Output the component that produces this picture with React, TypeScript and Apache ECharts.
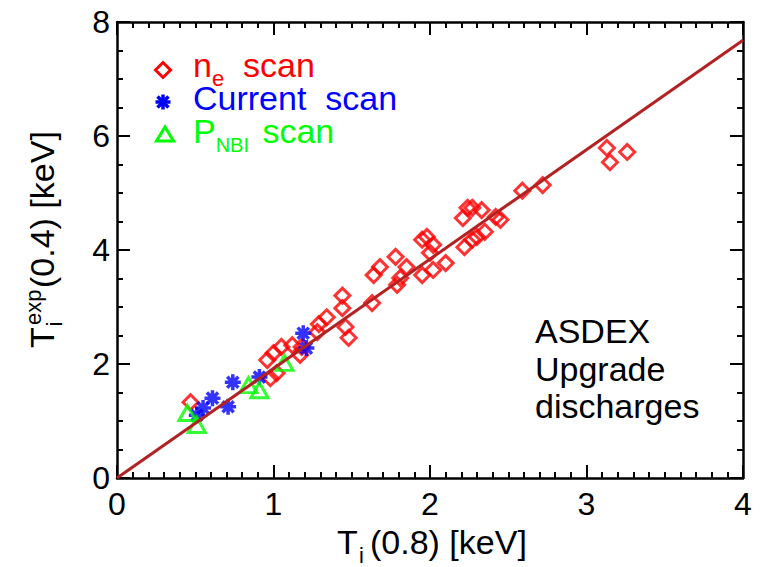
import React, { useEffect, useRef } from "react";
import * as echarts from "echarts";

const NE_SCAN: number[][] = [
  [0.47, 1.33], [0.96, 2.07], [0.98, 1.75], [1.0, 2.19], [1.02, 1.84], [1.05, 2.3],
  [1.12, 2.33], [1.17, 2.16], [1.18, 2.3], [1.28, 2.56], [1.29, 2.7], [1.34, 2.82],
  [1.44, 3.2], [1.44, 2.98], [1.46, 2.65], [1.48, 2.46], [1.63, 3.07], [1.64, 3.56],
  [1.68, 3.7], [1.78, 3.88], [1.79, 3.39], [1.81, 3.51], [1.85, 3.7], [1.95, 3.56],
  [2.02, 3.65], [2.1, 3.77], [1.95, 4.18], [1.98, 4.23], [2.02, 4.09], [2.0, 3.95],
  [2.21, 4.56], [2.24, 4.74], [2.27, 4.74], [2.33, 4.7], [2.42, 4.58], [2.45, 4.53],
  [2.22, 4.05], [2.27, 4.18], [2.3, 4.23], [2.35, 4.32], [2.59, 5.04], [2.72, 5.14],
  [3.13, 5.79], [3.15, 5.54], [3.26, 5.72],
];
const CURRENT_SCAN: number[][] = [
  [0.51, 1.1], [0.55, 1.23], [0.61, 1.4], [0.71, 1.25], [0.74, 1.68], [0.91, 1.77],
  [1.19, 2.54], [1.21, 2.28],
];
const PNBI_SCAN: number[][] = [
  [0.45, 1.14], [0.51, 0.93], [0.84, 1.63], [0.91, 1.54], [1.07, 2.02],
];
const FIT_X = [0, 4];
const FIT_Y = [0, 7.68];

const FONT = "'Liberation Sans', Arial, Helvetica, sans-serif";
const RED = "#ff0000";
const BLUE = "#0000ff";
const GREEN = "#00ff00";
const STAR = "path://M10 0 L10 20 M0 10 L20 10 M3 3 L17 17 M3 17 L17 3";

// text helper: place by left x and baseline y
function txt(text: string, x: number, baseline: number, size: number, color = "#000") {
  return {
    type: "text",
    x,
    y: baseline - 0.3465 * size,
    silent: true,
    style: {
      text,
      fill: color,
      fontSize: size,
      fontFamily: FONT,
      lineHeight: Math.round(size * 0.66),
      align: "left",
      verticalAlign: "middle",
      textAlign: "left",
      textVerticalAlign: "middle",
    },
  };
}

function richTok(color: string, size: number, padTop = 0, padRight = 0) {
  return {
    fill: color,
    color,
    fontSize: size,
    fontFamily: FONT,
    lineHeight: 33,
    padding: [padTop, padRight, 0, 0],
  };
}

export default function App() {
  const ref = useRef<HTMLDivElement>(null);
  useEffect(() => {
    document.body.style.margin = "0";
    const chart = echarts.init(ref.current!, null, { renderer: "svg" });
    const axisCommon = {
      type: "value",
      axisLine: { show: true, onZero: false, lineStyle: { color: "#000", width: 2.5 } },
      axisTick: { show: true, inside: true, length: 13, lineStyle: { color: "#000", width: 2 } },
      minorTick: { show: true, length: 6, lineStyle: { color: "#000", width: 2 } },
      splitLine: { show: false },
    };
    const labelStyle = { color: "#000", fontSize: 32, fontFamily: FONT };
    const option: any = {
      animation: false,
      backgroundColor: "#fff",
      grid: { left: 117, right: 20, top: 22, bottom: 89, containLabel: false },
      xAxis: [
        {
          ...axisCommon, min: 0, max: 4, interval: 1, position: "bottom",
          minorTick: { ...axisCommon.minorTick, splitNumber: 10 },
          axisLabel: { ...labelStyle, margin: 10 },
        },
        {
          ...axisCommon, min: 0, max: 4, interval: 1, position: "top",
          minorTick: { ...axisCommon.minorTick, splitNumber: 10 },
          axisLabel: { show: false },
        },
      ],
      yAxis: [
        {
          ...axisCommon, min: 0, max: 8, interval: 2, position: "left",
          minorTick: { ...axisCommon.minorTick, splitNumber: 4 },
          axisLabel: { ...labelStyle, margin: 7 },
        },
        {
          ...axisCommon, min: 0, max: 8, interval: 2, position: "right",
          minorTick: { ...axisCommon.minorTick, splitNumber: 4 },
          axisLabel: { show: false },
        },
      ],
      series: [
        {
          type: "scatter", name: "ne", data: NE_SCAN, symbol: "diamond", symbolSize: 15,
          itemStyle: { color: "rgba(0,0,0,0)", borderColor: RED, borderWidth: 3 }, z: 2,
        },
        {
          type: "scatter", name: "current", data: CURRENT_SCAN, symbol: STAR, symbolSize: 16,
          itemStyle: { color: "rgba(0,0,0,0)", borderColor: BLUE, borderWidth: 3.5 }, z: 3,
        },
        {
          type: "scatter", name: "pnbi", data: PNBI_SCAN, symbol: "triangle", symbolSize: [17, 15],
          itemStyle: { color: "rgba(0,0,0,0)", borderColor: GREEN, borderWidth: 3 }, z: 4,
        },
        {
          type: "line", data: FIT_X.map((x, i) => [x, FIT_Y[i]]), symbol: "none",
          lineStyle: { color: "#b22222", width: 3 }, z: 5,
        },
      ],
      graphic: [
        // legend markers
        {
          type: "polygon", shape: { points: [[163, 62.5], [170.5, 70], [163, 77.5], [155.5, 70]] },
          style: { fill: "none", stroke: RED, lineWidth: 3 },
        },
        {
          type: "group", x: 163, y: 102,
          children: [
            { type: "line", shape: { x1: 0, y1: -7.5, x2: 0, y2: 7.5 }, style: { stroke: BLUE, lineWidth: 3.5 } },
            { type: "line", shape: { x1: -7.5, y1: 0, x2: 7.5, y2: 0 }, style: { stroke: BLUE, lineWidth: 3.5 } },
            { type: "line", shape: { x1: -5.5, y1: -5.5, x2: 5.5, y2: 5.5 }, style: { stroke: BLUE, lineWidth: 3.5 } },
            { type: "line", shape: { x1: -5.5, y1: 5.5, x2: 5.5, y2: -5.5 }, style: { stroke: BLUE, lineWidth: 3.5 } },
          ],
        },
        {
          type: "polygon", shape: { points: [[165, 127], [173.5, 141], [156.5, 141]] },
          style: { fill: "none", stroke: GREEN, lineWidth: 3 },
        },
        // legend texts (one rich text block)
        {
          type: "text",
          x: 193,
          y: 48.7,
          silent: true,
          style: {
            text: "{r|n}{rs|e}{r|  scan}\n{b|Current  scan}\n{g|P}{gs|NBI}{g| scan}",
            fontFamily: FONT,
            fontSize: 34,
            lineHeight: 33,
            align: "left",
            verticalAlign: "top",
            textAlign: "left",
            textVerticalAlign: "top",
            rich: {
              r: richTok(RED, 34),
              rs: richTok(RED, 22, 26, 0),
              b: richTok(BLUE, 34),
              g: richTok(GREEN, 34),
              gs: richTok(GREEN, 20, 28, 4),
            },
          },
        },
        // annotation
        txt("ASDEX", 535, 343, 34),
        txt("Upgrade", 535, 381, 34),
        txt("discharges", 535, 418, 34),
        // x axis title
        txt("T", 337, 554, 34),
        txt("i", 359, 563, 22),
        txt("(0.8) [keV]", 370, 554, 34),
        // y axis title (rotated)
        {
          type: "group", x: 54, y: 348, rotation: Math.PI / 2,
          children: [
            txt("T", 0, 0, 34),
            txt("i", 21.5, 8, 22),
            txt("exp", 23, -13, 22),
            txt("(0.4) [keV]", 60, 0, 34),
          ],
        },
      ],
    };
    chart.setOption(option);
    return () => chart.dispose();
  }, []);
  return <div ref={ref} style={{ width: 763, height: 567 }} />;
}
